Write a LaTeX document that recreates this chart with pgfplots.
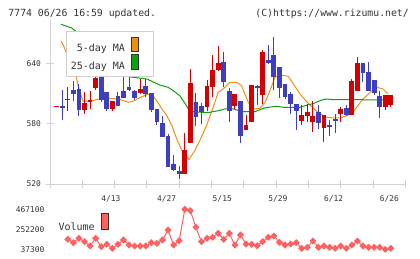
\documentclass[border=0pt]{standalone}
\usepackage{pgfplots}
\pgfplotsset{compat=1.18}
\usepackage{pgfplotstable}
\usepackage{fontspec}
\setmainfont{DejaVu Sans Mono}

\definecolor{upred}{HTML}{D40000}
\definecolor{downblue}{HTML}{3E3EC0}
\definecolor{maorange}{HTML}{F0900F}
\definecolor{magreen}{HTML}{0EA00E}
\definecolor{volred}{HTML}{FF6060}
\definecolor{axisgray}{HTML}{D2D2D2}
\definecolor{framegray}{HTML}{CFCFCF}
\definecolor{inkgray}{HTML}{333333}

% Rising sessions: index, low, high, body bottom (open), body top (close)
\pgfplotstableread{
i  L      H      lo     hi
0  596.5  597.5  596.5  597.5
2  593.3  616.7  604.0  605.0
5  590.0  611.7  594.0  601.0
6  595.0  613.3  601.7  604.0
7  614.3  628.0  616.0  626.0
10 592.7  603.3  595.0  603.3
15 610.0  625.0  611.3  615.0
23 530.0  571.0  530.0  554.3
24 560.7  635.0  561.3  621.0
27 592.7  624.0  597.3  617.7
28 606.7  649.3  617.3  634.3
29 633.3  657.7  634.0  641.0
32 595.0  610.0  598.3  610.0
34 574.3  589.0  574.3  579.0
35 581.7  619.0  581.7  619.0
37 600.0  654.3  609.0  652.3
44 579.3  599.3  583.3  589.0
45 581.7  600.0  588.3  592.3
46 572.3  603.3  581.7  587.7
48 561.7  589.0  575.7  589.0
51 581.7  596.7  590.0  595.0
53 589.3  625.0  589.3  623.3
54 613.3  647.3  613.3  641.0
59 594.0  609.3  596.7  609.3
60 597.3  609.3  599.3  609.3
}\upcandles

% Falling sessions: index, low, high, body bottom (close), body top (open)
\pgfplotstableread{
i  L      H      lo     hi
1  584.3  614.3  596.0  598.3
3  603.3  623.3  610.0  614.3
4  588.3  620.0  594.0  615.0
8  602.3  629.0  604.3  627.3
9  593.3  612.3  595.0  611.7
11 598.0  611.7  598.3  608.0
12 605.7  634.7  605.7  612.7
13 613.3  630.0  614.0  617.0
14 604.3  614.0  606.3  613.3
16 607.3  625.0  610.0  618.3
17 591.7  611.0  594.0  611.0
18 579.3  595.0  582.0  595.0
19 566.7  588.3  566.7  581.0
20 537.3  570.0  537.3  568.0
21 533.3  549.3  534.0  540.0
22 524.7  538.3  530.0  533.3
25 578.3  611.0  587.3  601.7
26 580.0  601.3  592.3  598.3
30 616.7  651.7  622.3  641.7
31 582.3  615.7  593.3  613.3
33 560.7  603.3  568.3  603.3
36 599.3  619.0  615.7  617.7
38 640.0  659.0  640.7  644.3
39 614.0  666.7  626.7  649.3
40 606.0  637.3  615.7  637.3
41 605.0  620.0  607.3  620.0
42 590.0  611.7  600.0  610.0
43 574.3  600.0  593.3  600.0
47 575.0  599.3  580.7  591.7
49 568.3  584.0  577.3  579.0
50 571.0  590.0  583.3  585.0
52 588.3  599.0  589.3  596.0
55 622.3  641.0  631.3  641.0
56 612.7  642.3  613.3  632.3
57 609.0  624.0  610.7  624.0
58 585.7  612.7  597.3  608.3
}\downcandles

% Daily volume
\pgfplotstableread{
i  v
2  144750
3  108600
4  155500
5  119300
6  72800
7  155500
8  65600
9  90700
10 48000
11 90700
12 137200
13 83500
14 72800
15 72800
16 72800
17 108600
18 101800
19 137200
20 244700
21 83500
22 130000
23 467100
24 452400
25 273700
26 119300
27 155500
28 165900
29 208900
30 144750
31 208900
32 83500
33 191000
34 94200
35 90700
36 76300
37 119300
38 165900
39 180200
40 112200
41 83500
42 94200
43 108600
44 48000
45 58800
46 126500
47 58800
48 72800
49 58800
50 48000
51 72800
52 48000
53 83500
54 126500
55 72800
56 58800
57 58800
58 58800
59 37300
60 48000
}\volumes

\tikzset{chartfont/.style={font=\fontsize{#1}{#1}\selectfont}}

\pgfplotsset{
  wick/.style={draw=none, mark=none, forget plot,
    error bars/.cd, y dir=plus, y explicit, error mark=none,
    error bar style={draw=#1, line width=1bp, line cap=butt}},
  body/.style={draw=none, mark=none, forget plot,
    error bars/.cd, y dir=plus, y explicit, error mark=none,
    error bar style={draw=#1, line width=4.8bp, line cap=butt}},
}

\begin{document}
\begin{tikzpicture}
\path[use as bounding box] (0bp,0bp) rectangle (420bp,259bp);

\node[anchor=base west, inner sep=0pt, text=inkgray, chartfont=9.8bp]
  at (8.3bp,242.1bp) {7774 06/26 16:59 updated.};
\node[anchor=base east, inner sep=0pt, text=inkgray, chartfont=9.8bp]
  at (409bp,242.1bp) {(C)https://www.rizumu.net/};

% price panel
\begin{axis}[
  at={(50bp,75bp)}, anchor=south west,
  scale only axis, width=355.3bp, height=164bp,
  xmin=-1.2, xmax=62.6, ymin=520, ymax=684,
  axis x line*=bottom, axis y line*=left,
  axis line style={draw=axisgray, line width=1bp},
  tick style={draw=axisgray, line width=1bp},
  major tick length=8bp, tick align=center,
  xtick={-1.2,4.6,10.4,16.2,22.0,27.8,33.6,39.4,45.2,51.0,56.8,62.6},
  xticklabels={,,,,,,,,,,,},
  extra x ticks={10,20,30,40,50,60},
  extra x tick labels={4/13,4/27,5/15,5/29,6/12,6/26},
  extra x tick style={major tick length=0pt,
    xticklabel style={anchor=base, yshift=-17.3bp, xshift=-1.5bp}},
  ytick={520,580,640},
  /pgf/number format/assume math mode=true,
  tick label style={chartfont=7.9bp, text=inkgray},
  yticklabel style={anchor=east, xshift=-1.5bp},
  legend style={
    at={(axis description cs:0.0442,0.9348)}, anchor=north west,
    draw=framegray, line width=1bp, fill=white,
    inner xsep=4.6bp, inner ysep=5.6bp,
    row sep=0.8bp, column sep=6bp,
    nodes={inner sep=0pt, text=inkgray, chartfont=10bp},
  },
  legend cell align=right,
  legend plot pos=right,
  legend image code/.code={
    \draw[fill, draw=inkgray, line width=0.9bp] (0bp,-3.1bp) rectangle (6.7bp,11.6bp);
    \path[draw=none, fill=none] (0bp,0bp) -- (17.5bp,0bp);
  },
]
% 5-day moving average
\addplot[maorange, line width=1bp] coordinates {
(0.77,663) (1.2,658.7) (3.5,627.7) (3.9,617) (4.7,603) (6.0,602.5)
(7.8,605.5) (9.6,605.5) (11.1,605) (12.9,601.7) (13.8,603) (15.0,606.5)
(16.3,609.5) (17.2,609) (18.0,603) (18.9,595) (19.8,588) (20.7,578)
(21.5,566) (22.6,552) (23.75,544.5) (24.8,553.3) (25.7,563.3) (26.9,578.3)
(28.1,596.7) (29.0,611.7) (29.9,615) (31.1,621.7) (32.3,621.7) (33.2,618.3)
(34.4,601.7) (35.3,595) (36.5,595.7) (37.4,601.7) (38.3,613.3) (39.2,626.7)
(40.1,629) (41.6,627.7) (42.5,620) (43.7,610) (44.9,602.3) (46.1,595.7)
(47.3,590) (48.5,586.7) (49.7,586) (50.9,586) (52.1,588.3) (53.2,591.7)
(54.1,598.3) (55.0,605) (56.3,611.7) (57.5,616.7) (58.6,615) (59.5,610)
};
\addlegendentry{5-day MA}
% 25-day moving average
\addplot[magreen, line width=1bp] coordinates {
(0.77,679.7) (2.7,676) (13.3,627) (16.2,625) (18.5,619) (20.0,616.7)
(20.9,613.5) (22.1,608.3) (23.0,601) (23.6,595.5) (24.5,592.3) (26.0,591.7)
(27.5,591.7) (29.0,593.3) (30.2,595) (31.7,595) (33.5,592.3) (35.6,592.3)
(37.1,595.7) (38.0,596.7) (39.5,597.7) (40.7,596.7) (43.7,596.7) (44.6,598.3)
(46.1,600.5) (47.6,604) (48.5,605) (49.7,604.3) (52.1,604.3) (54.5,604.3)
(56.8,604) (59.2,604)
};
\addlegendentry{25-day MA}

% candlesticks
\addplot[wick=upred] table[x=i, y=L, y error plus expr=\thisrow{H}-\thisrow{L}] {\upcandles};
\addplot[body=upred] table[x=i, y=lo, y error plus expr=\thisrow{hi}-\thisrow{lo}] {\upcandles};
\addplot[wick=downblue] table[x=i, y=L, y error plus expr=\thisrow{H}-\thisrow{L}] {\downcandles};
\addplot[body=downblue] table[x=i, y=lo, y error plus expr=\thisrow{hi}-\thisrow{lo}] {\downcandles};
\end{axis}

% volume panel
\begin{axis}[
  at={(50bp,9.7bp)}, anchor=south west,
  scale only axis, width=355.3bp, height=40bp,
  xmin=-1.2, xmax=62.6, ymin=37300, ymax=467100,
  clip=false,
  axis line style={draw=none},
  xtick=\empty,
  scaled y ticks=false,
  ytick={37300,252200,467100},
  yticklabels={37300,252200,467100},
  major tick length=0pt,
  tick label style={chartfont=7.9bp, text=inkgray},
  yticklabel style={anchor=east, xshift=-2bp},
  legend style={
    at={(axis description cs:0.0234,0.915)}, anchor=north west,
    draw=none, fill=none, inner sep=0pt, column sep=6.3bp,
    nodes={inner sep=0pt, text=inkgray, chartfont=10bp},
  },
  legend plot pos=right,
  legend image code/.code={
    \draw[fill, draw=inkgray, line width=0.9bp] (0bp,-2.3bp) rectangle (7bp,14bp);
  },
]
\addplot[volred, line width=1bp, mark=square*, mark size=2bp,
  mark options={rotate=45}] table[x=i, y=v] {\volumes};
\addlegendentry{Volume}
\end{axis}
\end{tikzpicture}
\end{document}
